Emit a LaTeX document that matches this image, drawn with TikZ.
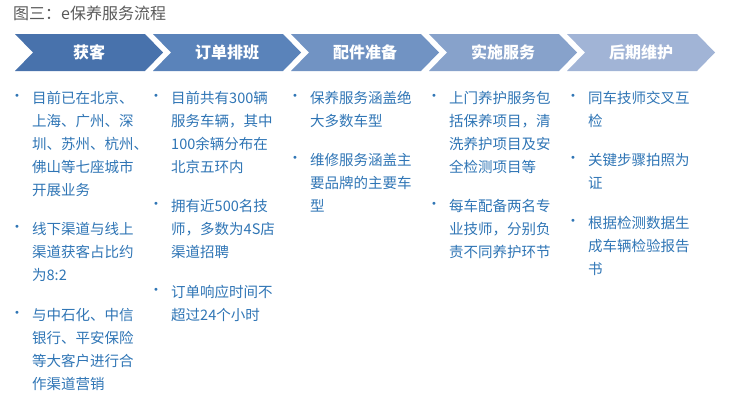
\documentclass[tikz,border=0pt]{standalone}
\usepackage{fontspec}
\setmainfont{Noto Sans CJK SC}
\newfontfamily\symfont{DejaVu Sans}
\usepackage{tikz}
\usetikzlibrary{positioning}
\definecolor{stga}{HTML}{4872AC}
\definecolor{stgb}{HTML}{5A83BA}
\definecolor{stgc}{HTML}{7193C3}
\definecolor{stgd}{HTML}{87A2CB}
\definecolor{stge}{HTML}{A1B4D6}
\definecolor{txtblue}{HTML}{2F75B5}
\definecolor{ttlgray}{HTML}{595959}
\tikzset{
  ttl/.style={font=\fontsize{16}{16}\selectfont,text=ttlgray,inner sep=0pt},
  stagelbl/.style={font=\fontsize{16}{16}\selectfont\bfseries,text=white,inner sep=0pt},
  item/.style={anchor=north west,inner sep=0pt,text=txtblue,
    font=\fontsize{14.5}{23}\selectfont},
}
\newcommand{\itm}[1]{\makebox[18pt][l]{\raisebox{4pt}{\symfont\fontsize{10}{10}\selectfont •}}%
  \begin{tabular}[t]{@{}l@{}}#1\end{tabular}}

\begin{document}
\begin{tikzpicture}[x=1pt,y=-1pt,node distance=16pt]
  \useasboundingbox (0,0) rectangle (733,405);
  \node[ttl,anchor=west] (title) at (13,13.5) {图三：e保养服务流程};
  % ---------- chevrons ----------
  \foreach \nm/\c [count=\i from 0] in {获客/stga,订单排班/stgb,配件准备/stgc,实施服务/stgd,后期维护/stge}{
    \pgfmathsetmacro{\xo}{15+138*\i}
    \fill[\c] (\xo,34) -- (\xo+130,34) -- (\xo+148,52.5) -- (\xo+130,71)
      -- (\xo,71) -- (\xo+18,52.5) -- cycle;
    \node[stagelbl] (s\i) at (\xo+74,52.5) {\nm};
  }
  % ---------- column 1 ----------
  \node[item] (c1a) at (14,87) {\itm{目前已在北京、\\上海、广州、深\\圳、苏州、杭州、\\佛山等七座城市\\开展业务}};
  \node[item,below=of c1a.south west,anchor=north west] (c1b) {\itm{线下渠道与线上\\渠道获客占比约\\为8:2}};
  \node[item,below=of c1b.south west,anchor=north west] (c1c) {\itm{与中石化、中信\\银行、平安保险\\等大客户进行合\\作渠道营销}};
  % ---------- column 2 ----------
  \node[item] (c2a) at (153,87) {\itm{目前共有300辆\\服务车辆，其中\\100余辆分布在\\北京五环内}};
  \node[item,below=of c2a.south west,anchor=north west] (c2b) {\itm{拥有近500名技\\师，多数为4S店\\渠道招聘}};
  \node[item,below=of c2b.south west,anchor=north west] (c2c) {\itm{订单响应时间不\\超过24个小时}};
  % ---------- column 3 ----------
  \node[item] (c3a) at (292,87) {\itm{保养服务涵盖绝\\大多数车型}};
  \node[item,below=of c3a.south west,anchor=north west] (c3b) {\itm{维修服务涵盖主\\要品牌的主要车\\型}};
  % ---------- column 4 ----------
  \node[item] (c4a) at (431,87) {\itm{上门养护服务包\\括保养项目，清\\洗养护项目及安\\全检测项目等}};
  \node[item,below=of c4a.south west,anchor=north west] (c4b) {\itm{每车配备两名专\\业技师，分别负\\责不同养护环节}};
  % ---------- column 5 ----------
  \node[item] (c5a) at (570,87) {\itm{同车技师交叉互\\检}};
  \node[item,below=of c5a.south west,anchor=north west] (c5b) {\itm{关键步骤拍照为\\证}};
  \node[item,below=of c5b.south west,anchor=north west] (c5c) {\itm{根据检测数据生\\成车辆检验报告\\书}};
\end{tikzpicture}
\end{document}
